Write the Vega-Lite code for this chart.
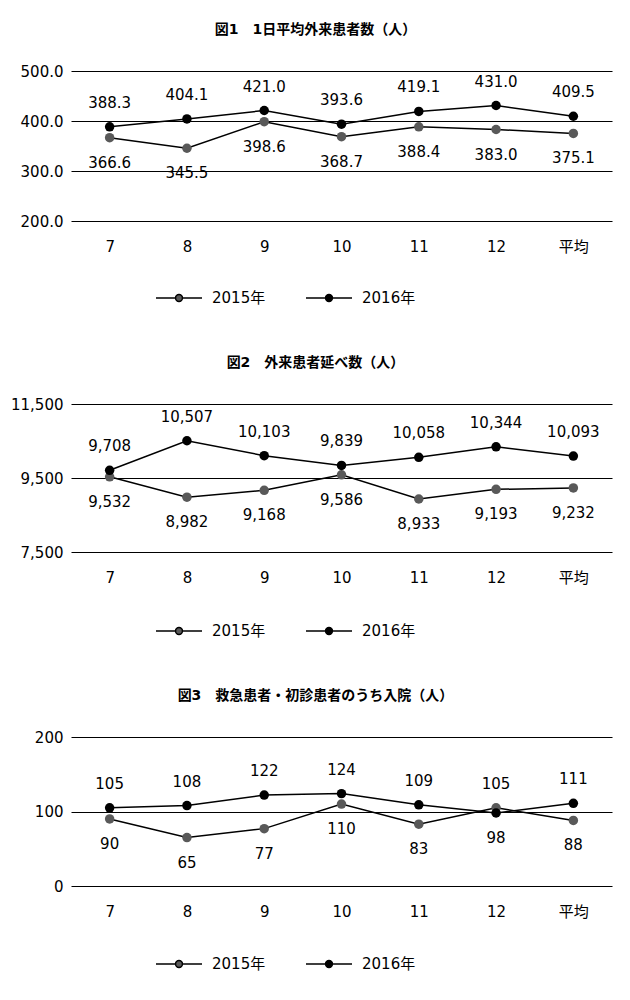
{
  "$schema": "https://vega.github.io/schema/vega-lite/v6.json",
  "padding": {"left": 10, "top": 23, "right": 18, "bottom": 5},
  "spacing": 50,
  "resolve": {"scale": {"fill": "independent"}, "legend": {"fill": "independent"}},
  "config": {
    "font": "'DejaVu Sans', 'Noto Sans CJK JP'",
    "view": {"stroke": null},
    "title": {"fontSize": 14, "fontWeight": "bold", "offset": 27, "anchor": "middle", "dx": -26, "color": "#000000", "font": "'DejaVu Sans', 'Noto Sans CJK JP'"},
    "axisX": {"domain": false, "ticks": false, "grid": false, "labelFontSize": 15, "labelColor": "#000000", "labelPadding": 18, "labelAngle": 0, "title": null},
    "axisY": {"domain": false, "ticks": false, "grid": true, "gridColor": "#000000", "gridWidth": 1.2, "gridOpacity": 1, "labelFontSize": 15, "labelColor": "#000000", "labelPadding": 8, "minExtent": 52, "maxExtent": 52, "title": null},
    "legend": {
      "orient": "none", "legendX": 84, "legendY": 203, "direction": "horizontal", "title": null,
      "labelFontSize": 15, "labelColor": "#000000", "columnPadding": 37, "labelOffset": 9,
      "symbolType": "M-1,0H-0.15M0.15,0H1M0.15,0A0.15,0.15,0,1,1,-0.15,0A0.15,0.15,0,1,1,0.15,0Z",
      "symbolSize": 2116, "symbolStrokeColor": "#000000", "symbolStrokeWidth": 1.5
    }
  },
  "datasets": {
    "d": [
      {"chart": 1, "month": "7", "year": "2015年", "value": 366.6},
      {"chart": 1, "month": "8", "year": "2015年", "value": 345.5},
      {"chart": 1, "month": "9", "year": "2015年", "value": 398.6},
      {"chart": 1, "month": "10", "year": "2015年", "value": 368.7},
      {"chart": 1, "month": "11", "year": "2015年", "value": 388.4},
      {"chart": 1, "month": "12", "year": "2015年", "value": 383.0},
      {"chart": 1, "month": "平均", "year": "2015年", "value": 375.1},
      {"chart": 1, "month": "7", "year": "2016年", "value": 388.3},
      {"chart": 1, "month": "8", "year": "2016年", "value": 404.1},
      {"chart": 1, "month": "9", "year": "2016年", "value": 421.0},
      {"chart": 1, "month": "10", "year": "2016年", "value": 393.6},
      {"chart": 1, "month": "11", "year": "2016年", "value": 419.1},
      {"chart": 1, "month": "12", "year": "2016年", "value": 431.0},
      {"chart": 1, "month": "平均", "year": "2016年", "value": 409.5},
      {"chart": 2, "month": "7", "year": "2015年", "value": 9532},
      {"chart": 2, "month": "8", "year": "2015年", "value": 8982},
      {"chart": 2, "month": "9", "year": "2015年", "value": 9168},
      {"chart": 2, "month": "10", "year": "2015年", "value": 9586},
      {"chart": 2, "month": "11", "year": "2015年", "value": 8933},
      {"chart": 2, "month": "12", "year": "2015年", "value": 9193},
      {"chart": 2, "month": "平均", "year": "2015年", "value": 9232},
      {"chart": 2, "month": "7", "year": "2016年", "value": 9708},
      {"chart": 2, "month": "8", "year": "2016年", "value": 10507},
      {"chart": 2, "month": "9", "year": "2016年", "value": 10103},
      {"chart": 2, "month": "10", "year": "2016年", "value": 9839},
      {"chart": 2, "month": "11", "year": "2016年", "value": 10058},
      {"chart": 2, "month": "12", "year": "2016年", "value": 10344},
      {"chart": 2, "month": "平均", "year": "2016年", "value": 10093},
      {"chart": 3, "month": "7", "year": "2015年", "value": 90},
      {"chart": 3, "month": "8", "year": "2015年", "value": 65},
      {"chart": 3, "month": "9", "year": "2015年", "value": 77},
      {"chart": 3, "month": "10", "year": "2015年", "value": 110},
      {"chart": 3, "month": "11", "year": "2015年", "value": 83},
      {"chart": 3, "month": "12", "year": "2015年", "value": 105},
      {"chart": 3, "month": "平均", "year": "2015年", "value": 88},
      {"chart": 3, "month": "7", "year": "2016年", "value": 105},
      {"chart": 3, "month": "8", "year": "2016年", "value": 108},
      {"chart": 3, "month": "9", "year": "2016年", "value": 122},
      {"chart": 3, "month": "10", "year": "2016年", "value": 124},
      {"chart": 3, "month": "11", "year": "2016年", "value": 109},
      {"chart": 3, "month": "12", "year": "2016年", "value": 98},
      {"chart": 3, "month": "平均", "year": "2016年", "value": 111}
    ]
  },
  "vconcat": [
    {
      "title": "図1　1日平均外来患者数（人）",
      "width": 541, "height": 150,
      "data": {"name": "d"},
      "transform": [
        {"filter": "datum.chart == 1"},
        {"joinaggregate": [{"op": "max", "field": "value", "as": "maxv"}], "groupby": ["month"]}
      ],
      "encoding": {
        "x": {"field": "month", "type": "ordinal", "sort": ["7", "8", "9", "10", "11", "12", "平均"], "scale": {"type": "point", "padding": 0.5}},
        "y": {"field": "value", "type": "quantitative", "scale": {"domain": [200, 500], "nice": false, "zero": false}, "axis": {"values": [200, 300, 400, 500], "format": ".1f"}}
      },
      "layer": [
        {"mark": {"type": "line", "color": "#000000", "strokeWidth": 1.5}, "encoding": {"detail": {"field": "year"}}},
        {"mark": {"type": "circle", "size": 90, "opacity": 1}, "encoding": {"fill": {"field": "year", "type": "nominal", "scale": {"domain": ["2015年", "2016年"], "range": ["#595959", "#000000"]}}}},
        {"transform": [{"filter": "datum.value == datum.maxv"}], "mark": {"type": "text", "dy": -24, "fontSize": 15, "color": "#000000"}, "encoding": {"text": {"field": "value", "type": "quantitative", "format": ".1f"}}},
        {"transform": [{"filter": "datum.value < datum.maxv"}], "mark": {"type": "text", "dy": 25, "fontSize": 15, "color": "#000000"}, "encoding": {"text": {"field": "value", "type": "quantitative", "format": ".1f"}}}
      ]
    },
    {
      "title": "図2　外来患者延べ数（人）",
      "width": 541, "height": 148,
      "data": {"name": "d"},
      "transform": [
        {"filter": "datum.chart == 2"},
        {"joinaggregate": [{"op": "max", "field": "value", "as": "maxv"}], "groupby": ["month"]}
      ],
      "encoding": {
        "x": {"field": "month", "type": "ordinal", "sort": ["7", "8", "9", "10", "11", "12", "平均"], "scale": {"type": "point", "padding": 0.5}},
        "y": {"field": "value", "type": "quantitative", "scale": {"domain": [7500, 11500], "nice": false, "zero": false}, "axis": {"values": [7500, 9500, 11500], "format": ",.0f"}}
      },
      "layer": [
        {"mark": {"type": "line", "color": "#000000", "strokeWidth": 1.5}, "encoding": {"detail": {"field": "year"}}},
        {"mark": {"type": "circle", "size": 90, "opacity": 1}, "encoding": {"fill": {"field": "year", "type": "nominal", "scale": {"domain": ["2015年", "2016年"], "range": ["#595959", "#000000"]}}}},
        {"transform": [{"filter": "datum.value == datum.maxv"}], "mark": {"type": "text", "dy": -24, "fontSize": 15, "color": "#000000"}, "encoding": {"text": {"field": "value", "type": "quantitative", "format": ",.0f"}}},
        {"transform": [{"filter": "datum.value < datum.maxv"}], "mark": {"type": "text", "dy": 25, "fontSize": 15, "color": "#000000"}, "encoding": {"text": {"field": "value", "type": "quantitative", "format": ",.0f"}}}
      ]
    },
    {
      "title": "図3　救急患者・初診患者のうち入院（人）",
      "width": 541, "height": 149,
      "data": {"name": "d"},
      "transform": [
        {"filter": "datum.chart == 3"},
        {"joinaggregate": [{"op": "max", "field": "value", "as": "maxv"}], "groupby": ["month"]}
      ],
      "encoding": {
        "x": {"field": "month", "type": "ordinal", "sort": ["7", "8", "9", "10", "11", "12", "平均"], "scale": {"type": "point", "padding": 0.5}},
        "y": {"field": "value", "type": "quantitative", "scale": {"domain": [0, 200], "nice": false}, "axis": {"values": [0, 100, 200], "format": "d"}}
      },
      "layer": [
        {"mark": {"type": "line", "color": "#000000", "strokeWidth": 1.5}, "encoding": {"detail": {"field": "year"}}},
        {"mark": {"type": "circle", "size": 90, "opacity": 1}, "encoding": {"fill": {"field": "year", "type": "nominal", "scale": {"domain": ["2015年", "2016年"], "range": ["#595959", "#000000"]}}}},
        {"transform": [{"filter": "datum.value == datum.maxv"}], "mark": {"type": "text", "dy": -24, "fontSize": 15, "color": "#000000"}, "encoding": {"text": {"field": "value", "type": "quantitative", "format": "d"}}},
        {"transform": [{"filter": "datum.value < datum.maxv"}], "mark": {"type": "text", "dy": 25, "fontSize": 15, "color": "#000000"}, "encoding": {"text": {"field": "value", "type": "quantitative", "format": "d"}}}
      ]
    }
  ]
}
